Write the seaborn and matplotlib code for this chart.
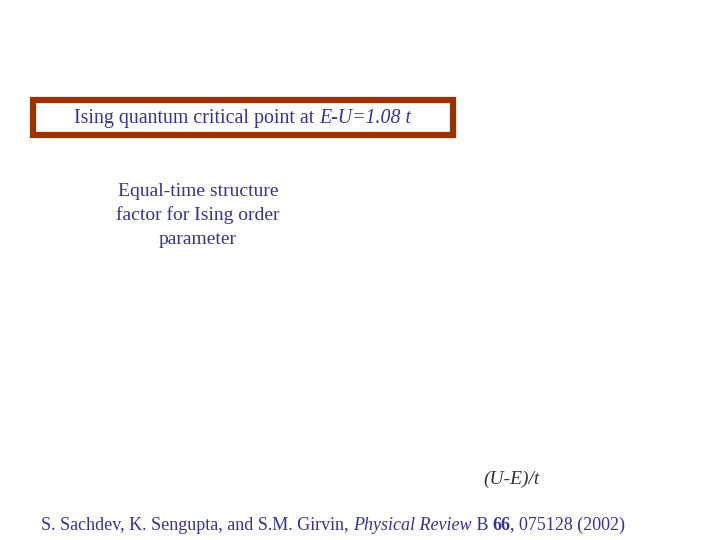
import matplotlib
matplotlib.use("Agg")
import matplotlib.pyplot as plt
import matplotlib.patches as mpatches
import seaborn as sns

# slide text, split into runs of (text, style)
title_runs = [("Ising quantum critical point at ", "normal"), ("E-U=1.08 t", "italic")]
note_lines = ["Equal-time structure", "factor for Ising order", "parameter"]
axis_label = "(U-E)/t"
cite_runs = [("S. Sachdev, K. Sengupta, and S.M. Girvin, ", "normal"),
             ("Physical Review", "italic"),
             (" B ", "normal"),
             ("66", "bold"),
             (", 075128 (2002)", "normal")]

navy = "#333399"
brown = "#993300"

sns.set_style("white")
plt.rcParams["font.family"] = ["Liberation Serif", "DejaVu Serif"]

fig = plt.figure(figsize=(7.2, 5.4), dpi=100)
ax = fig.add_axes([0, 0, 1, 1])
ax.set_xlim(0, 720)
ax.set_ylim(540, 0)
ax.axis("off")


def run_text(runs, x, y, size, center=False):
    # put text runs one after another on the same baseline
    texts = []
    cx = x
    for s, st in runs:
        kw = {"fontstyle": "italic"} if st == "italic" else {}
        if st == "bold":
            kw = {"fontweight": "bold"}
        t = ax.text(cx, y, s, fontsize=size, color=navy, ha="left", va="baseline", **kw)
        fig.canvas.draw()
        bb = t.get_window_extent()
        cx = ax.transData.inverted().transform((bb.x1, bb.y0))[0]
        texts.append(t)
    if center:
        shift = (cx - x) / 2
        for t in texts:
            px, py = t.get_position()
            t.set_position((px - shift, py))


box = mpatches.Rectangle((33, 100), 420, 35, fill=False, edgecolor=brown, linewidth=4.5)
ax.add_patch(box)
run_text(title_runs, 243, 123, 14.3, center=True)

for i, line in enumerate(note_lines):
    ax.text(198, 196 + 24 * i, line, fontsize=14, color=navy, ha="center", va="baseline")

ax.text(511, 484, axis_label, fontsize=14, color="#333333", fontstyle="italic",
        ha="center", va="baseline")

run_text(cite_runs, 41, 530, 13)

fig.savefig("out.png", dpi=100, facecolor="white")
